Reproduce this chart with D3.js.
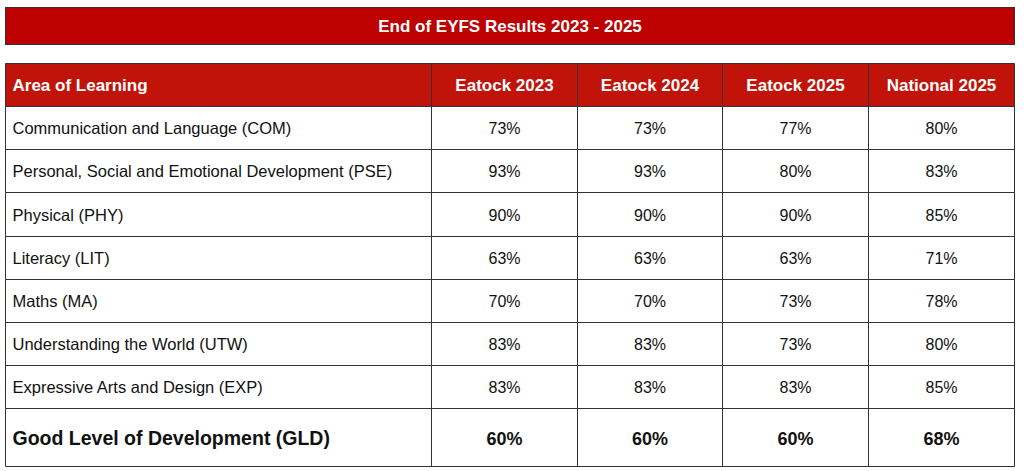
<!DOCTYPE html>
<html><head><meta charset="utf-8">
<script src="https://cdn.jsdelivr.net/npm/d3@7"></script>
<style>body{margin:0;background:#fff}svg{display:block}</style>
</head><body><div id="chart"></div>
<script>
var title = 'End of EYFS Results 2023 - 2025';
var columns = ['Area of Learning', 'Eatock 2023', 'Eatock 2024', 'Eatock 2025', 'National 2025'];
var areas = ['Communication and Language (COM)', 'Personal, Social and Emotional Development (PSE)',
  'Physical (PHY)', 'Literacy (LIT)', 'Maths (MA)', 'Understanding the World (UTW)',
  'Expressive Arts and Design (EXP)', 'Good Level of Development (GLD)'];
var eatock2023 = [73, 93, 90, 63, 70, 83, 83, 60];
var eatock2024 = [73, 93, 90, 63, 70, 83, 83, 60];
var eatock2025 = [77, 80, 90, 63, 73, 73, 83, 60];
var national2025 = [80, 83, 85, 71, 78, 80, 85, 68];

var W = 1024, H = 471, HEAD = '#c0140a';
var svg = d3.select('#chart').append('svg').attr('width', W).attr('height', H)
  .style('font-family', '"Liberation Sans", Arial, sans-serif');

// title bar
svg.append('rect').attr('x', 5.5).attr('y', 7.5).attr('width', 1009).attr('height', 37)
  .attr('fill', '#bd0000').attr('stroke', '#333').attr('stroke-width', 1);
svg.append('text').attr('x', 510).attr('y', 32).attr('text-anchor', 'middle')
  .attr('fill', '#fff').attr('font-weight', 'bold').attr('font-size', 17).text(title);

// table geometry
var colEdges = [5.5, 431.5, 577.5, 722.5, 868.5, 1014.5];
var rowEdges = [63.5, 106.5, 149.5, 192.5, 236.5, 279.5, 322.5, 365.5, 408.5, 466.5];
var rows = areas.map(function(a, i) {
  return [a, eatock2023[i] + '%', eatock2024[i] + '%', eatock2025[i] + '%', national2025[i] + '%'];
});

svg.append('rect').attr('x', colEdges[0]).attr('y', rowEdges[0])
  .attr('width', colEdges[5] - colEdges[0]).attr('height', rowEdges[1] - rowEdges[0]).attr('fill', HEAD);

var g = svg.append('g');
columns.forEach(function(c, j) {
  g.append('text').attr('x', j === 0 ? colEdges[0] + 7 : (colEdges[j] + colEdges[j + 1]) / 2)
    .attr('y', (rowEdges[0] + rowEdges[1]) / 2 + 6)
    .attr('text-anchor', j === 0 ? 'start' : 'middle')
    .attr('fill', '#fff').attr('font-weight', 'bold').attr('font-size', 17).text(c);
});

rows.forEach(function(r, i) {
  var last = i === rows.length - 1;
  var yc = (rowEdges[i + 1] + rowEdges[i + 2]) / 2;
  r.forEach(function(v, j) {
    g.append('text').attr('x', j === 0 ? colEdges[0] + 7 : (colEdges[j] + colEdges[j + 1]) / 2)
      .attr('y', yc + (last ? 7 : 6))
      .attr('text-anchor', j === 0 ? 'start' : 'middle')
      .attr('fill', '#111')
      .attr('font-weight', last ? 'bold' : 'normal')
      .attr('font-size', last ? (j === 0 ? 19.5 : 18) : (j === 0 ? 16.5 : 16)).text(v);
  });
});

// grid lines
rowEdges.forEach(function(y) {
  svg.append('line').attr('x1', colEdges[0]).attr('x2', colEdges[5]).attr('y1', y).attr('y2', y)
    .attr('stroke', '#333').attr('stroke-width', 1);
});
colEdges.forEach(function(x) {
  svg.append('line').attr('x1', x).attr('x2', x).attr('y1', rowEdges[0]).attr('y2', rowEdges[rowEdges.length - 1])
    .attr('stroke', '#333').attr('stroke-width', 1);
});
</script></body></html>
